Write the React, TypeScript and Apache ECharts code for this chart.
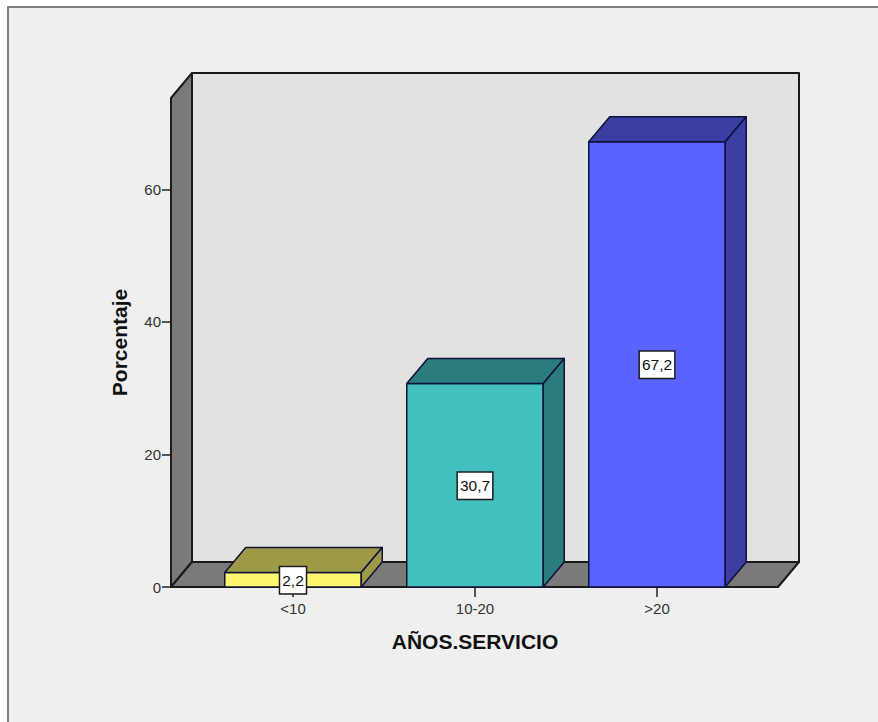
import React, { useEffect, useRef } from "react";
import * as echarts from "echarts";

// Service-years distribution, percentage of respondents per group
const categories = ["<10", "10-20", ">20"];
const percentages = [2.2, 30.7, 67.2];
const yTicks = [0, 20, 40, 60];

const frontColors = ["#fbf66e", "#44bfc0", "#5a62ff"];
const shadeColors = ["#9c9a47", "#2b7c7d", "#393ea0"];

const WIDTH = 878;
const HEIGHT = 722;
// Oblique projection of the chart's depth, in pixels
const DEPTH_X = 21;
const DEPTH_Y = 25;
const FLOOR_PAD_LEFT = 31;
const FLOOR_PAD_RIGHT = 30;
const AXIS_MAX = 73.8;

const formatValue = (v: number) => v.toFixed(1).replace(".", ",");

// Back wall, left wall and floor of the 3D box, derived from the grid rectangle
function renderWalls(params: any) {
  const c = params.coordSys;
  const left = c.x - FLOOR_PAD_LEFT;
  const right = c.x + c.width + FLOOR_PAD_RIGHT;
  const top = c.y;
  const bottom = c.y + c.height;
  const edge = { stroke: "#1a1a1a", lineWidth: 2, lineJoin: "round" };
  const poly = (points: number[][], fill: string) => ({
    type: "polygon",
    shape: { points },
    style: { fill, ...edge },
  });
  return {
    type: "group",
    children: [
      poly(
        [
          [left + DEPTH_X, top - DEPTH_Y],
          [right + DEPTH_X, top - DEPTH_Y],
          [right + DEPTH_X, bottom - DEPTH_Y],
          [left + DEPTH_X, bottom - DEPTH_Y],
        ],
        "#e2e2e2",
      ),
      poly(
        [
          [left, top],
          [left + DEPTH_X, top - DEPTH_Y],
          [left + DEPTH_X, bottom - DEPTH_Y],
          [left, bottom],
        ],
        "#7a7a7a",
      ),
      poly(
        [
          [left, bottom],
          [left + DEPTH_X, bottom - DEPTH_Y],
          [right + DEPTH_X, bottom - DEPTH_Y],
          [right, bottom],
        ],
        "#7a7a7a",
      ),
    ],
  };
}

// One extruded bar: front face, top face, side face and its boxed value label
function renderBar(params: any, api: any) {
  const index = api.value(0);
  const value = api.value(1);
  const [cx, yTop] = api.coord([index, value]);
  const [, yBase] = api.coord([index, 0]);
  const half = (api.size([1, 0])[0] * 0.75) / 2;
  const x0 = cx - half;
  const x1 = cx + half;
  const edge = { stroke: "#10103a", lineWidth: 1.5, lineJoin: "round" };
  const poly = (points: number[][], fill: string) => ({
    type: "polygon",
    shape: { points },
    style: { fill, ...edge },
  });
  return {
    type: "group",
    children: [
      poly(
        [
          [x0, yTop],
          [x1, yTop],
          [x1, yBase],
          [x0, yBase],
        ],
        frontColors[index],
      ),
      poly(
        [
          [x0, yTop],
          [x0 + DEPTH_X, yTop - DEPTH_Y],
          [x1 + DEPTH_X, yTop - DEPTH_Y],
          [x1, yTop],
        ],
        shadeColors[index],
      ),
      poly(
        [
          [x1, yTop],
          [x1 + DEPTH_X, yTop - DEPTH_Y],
          [x1 + DEPTH_X, yBase - DEPTH_Y],
          [x1, yBase],
        ],
        shadeColors[index],
      ),
      {
        type: "text",
        x: cx,
        y: (yTop + yBase) / 2 + 0.5,
        style: {
          text: formatValue(value),
          x: 0,
          y: 0,
          align: "center",
          verticalAlign: "middle",
          font: '15.5px "Liberation Sans", Arial, sans-serif',
          fill: "#111",
          backgroundColor: "#fff",
          borderColor: "#1c1c1c",
          borderWidth: 1.5,
          padding: [5, 2, 5, 2],
        },
      },
    ],
  };
}

export default function App() {
  const ref = useRef<HTMLDivElement>(null);

  useEffect(() => {
    const chart = echarts.init(ref.current!, undefined, { renderer: "svg" });
    const font = '"Liberation Sans", Arial, sans-serif';
    chart.setOption({
      animation: false,
      backgroundColor: "#ffffff",
      textStyle: { fontFamily: font },
      graphic: [
        {
          type: "rect",
          z: -10,
          silent: true,
          shape: { x: 8, y: 7, width: WIDTH - 8, height: HEIGHT - 7 },
          style: { fill: "#efefef" },
        },
        {
          type: "polyline",
          z: -9,
          silent: true,
          shape: {
            points: [
              [8, HEIGHT],
              [8, 7],
              [WIDTH, 7],
            ],
          },
          style: { fill: "none", stroke: "#808080", lineWidth: 2 },
        },
      ],
      grid: { left: 202, right: 130, top: 98, bottom: 135 },
      xAxis: {
        type: "category",
        data: categories,
        name: "AÑOS.SERVICIO",
        nameLocation: "middle",
        nameGap: 44,
        nameTextStyle: { fontSize: 21, fontWeight: "bold", color: "#111", fontFamily: font },
        axisLine: { show: false },
        axisTick: {
          show: true,
          alignWithLabel: true,
          length: 10,
          lineStyle: { color: "#222", width: 1.5 },
        },
        axisLabel: { fontSize: 15, color: "#333", margin: 14, fontFamily: font },
      },
      yAxis: {
        type: "value",
        min: 0,
        max: AXIS_MAX,
        offset: FLOOR_PAD_LEFT,
        name: "Porcentaje",
        nameLocation: "middle",
        nameGap: 41,
        nameTextStyle: { fontSize: 21, fontWeight: "bold", color: "#111", fontFamily: font },
        splitLine: { show: false },
        axisLine: { show: false },
        axisTick: {
          show: true,
          length: 9,
          customValues: yTicks,
          lineStyle: { color: "#222", width: 1.5 },
        },
        axisLabel: {
          fontSize: 15,
          color: "#333",
          margin: 10,
          customValues: yTicks,
          fontFamily: font,
        },
      },
      series: [
        {
          type: "custom",
          silent: true,
          z: 1,
          coordinateSystem: "cartesian2d",
          renderItem: renderWalls,
          data: [[0, 0]],
        },
        {
          type: "custom",
          silent: true,
          z: 2,
          coordinateSystem: "cartesian2d",
          encode: { x: 0, y: 1 },
          renderItem: renderBar,
          data: percentages.map((v, i) => [i, v]),
        },
      ],
    });
    return () => chart.dispose();
  }, []);

  return (
    <div
      ref={ref}
      style={{ position: "absolute", left: 0, top: 0, width: WIDTH, height: HEIGHT }}
    />
  );
}
